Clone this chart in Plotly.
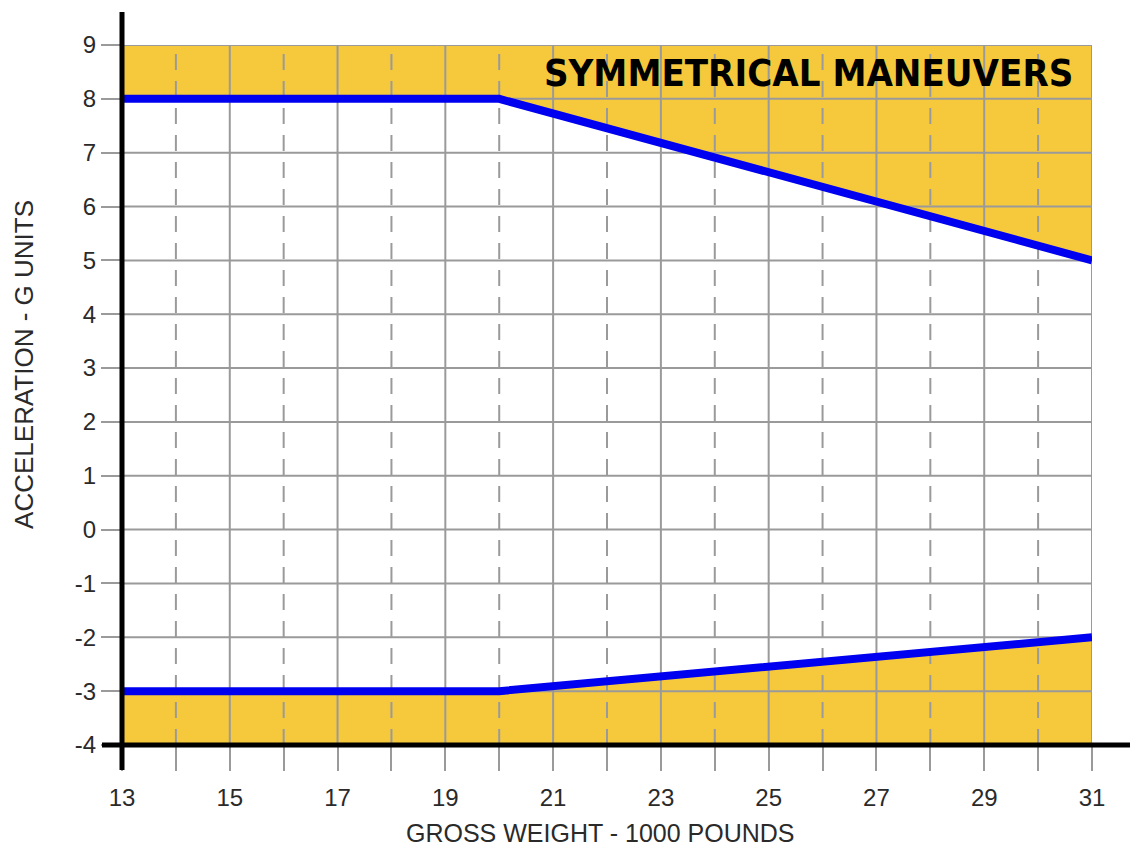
import plotly.graph_objects as go

# Data
weight = [13, 20, 31]              # gross weight, 1000 lb
upper_g = [8, 8, 5]                # positive load limit
lower_g = [-3, -3, -2]             # negative load limit
x_ticks = [13, 15, 17, 19, 21, 23, 25, 27, 29, 31]
x_grid = list(range(13, 32))
y_ticks = list(range(-4, 10))
y_tick_text = [str(v) for v in y_ticks]   # plain hyphen minus like the reference
x_range = [13, 31]
y_range = [-4, 9]

title_text = "SYMMETRICAL MANEUVERS"
x_title = "GROSS WEIGHT - 1000 POUNDS"
y_title = "ACCELERATION - G UNITS"

FILL = "#F6C93C"
GRID = "#9a9a9a"
BLUE = "#0000F0"
TEXT = "#2a2a2a"

fig = go.Figure()

# yellow regions (above upper limit, below lower limit)
fig.add_trace(go.Scatter(
    x=weight + [weight[-1], weight[0]],
    y=upper_g + [y_range[1], y_range[1]],
    fill="toself", fillcolor=FILL, mode="lines", line=dict(width=0),
    hoverinfo="skip", showlegend=False))
fig.add_trace(go.Scatter(
    x=weight + [weight[-1], weight[0]],
    y=lower_g + [y_range[0], y_range[0]],
    fill="toself", fillcolor=FILL, mode="lines", line=dict(width=0),
    hoverinfo="skip", showlegend=False))

# grid lines drawn above fill
for yv in y_ticks:
    fig.add_trace(go.Scatter(x=x_range, y=[yv, yv], mode="lines",
                             line=dict(color=GRID, width=2),
                             hoverinfo="skip", showlegend=False))
for xv in x_grid:
    solid = (xv - x_grid[0]) % 2 == 0
    fig.add_trace(go.Scatter(x=[xv, xv], y=y_range, mode="lines",
                             line=dict(color=GRID, width=2,
                                       dash="solid" if solid else "16px,11px"),
                             hoverinfo="skip", showlegend=False))

# limit lines
for ys in (upper_g, lower_g):
    fig.add_trace(go.Scatter(x=weight, y=ys, mode="lines",
                             line=dict(color=BLUE, width=8),
                             hoverinfo="skip", showlegend=False))

fig.update_layout(
    width=1130, height=842,
    margin=dict(l=114, r=46, t=37, b=105),
    paper_bgcolor="white", plot_bgcolor="white",
    font=dict(family="Liberation Sans, Arial, sans-serif", size=24, color=TEXT),
    xaxis=dict(range=x_range, tickvals=x_ticks, showgrid=False, zeroline=False,
               ticks="outside", ticklen=25, tickcolor=GRID, tickwidth=2,
               minor=dict(tickvals=x_grid, ticks="outside", ticklen=25,
                          tickcolor=GRID, tickwidth=2),
               showline=False, tickfont=dict(size=24), ticklabelstandoff=6),
    yaxis=dict(range=y_range, tickvals=y_ticks, ticktext=y_tick_text,
               showgrid=False, zeroline=False,
               ticks="outside", ticklen=20, tickcolor=GRID, tickwidth=2,
               showline=False, tickfont=dict(size=24)),
    shapes=[
        dict(type="line", xref="paper", yref="paper",
             x0=0, x1=0, y0=-25 / 700, y1=1 + 33 / 700,
             line=dict(color="black", width=5), layer="above"),
        dict(type="line", xref="paper", yref="paper",
             x0=-20 / 970, x1=1016 / 970, y0=0, y1=0,
             line=dict(color="black", width=5), layer="above"),
    ],
    annotations=[
        dict(text="<b>" + title_text + "</b>", xref="paper", yref="paper",
             x=0.9825, y=0.96, xanchor="right", yanchor="middle",
             showarrow=False,
             font=dict(family="DejaVu Sans Condensed, DejaVu Sans",
                       size=38, color="black", weight=900)),
        dict(text=x_title, xref="paper", yref="paper",
             x=0.4928, y=(745 - 833) / 700, xanchor="center", yanchor="middle",
             showarrow=False, font=dict(size=25, color=TEXT)),
        dict(text=y_title, xref="paper", yref="paper",
             x=-98 / 970, y=0.543, xanchor="center", yanchor="middle",
             textangle=-90, showarrow=False, font=dict(size=26, color=TEXT)),
    ],
)

fig.write_html("out.html")
